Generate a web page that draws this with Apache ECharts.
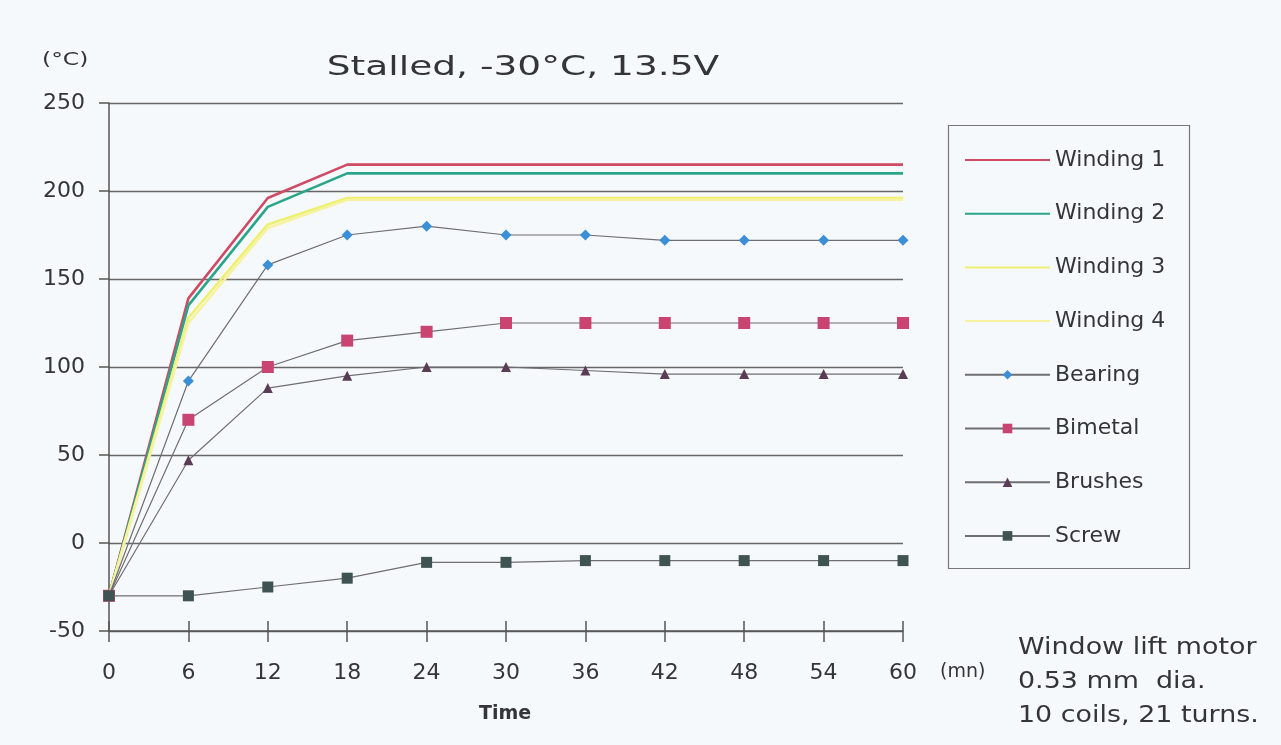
<!DOCTYPE html>
<html><head><meta charset="utf-8">
<script src="https://cdn.jsdelivr.net/npm/echarts@6/dist/echarts.min.js"></script>
<style>html,body{margin:0;padding:0;background:#f6f9fb;}#c{width:1281px;height:745px;}</style>
</head><body><div id="c"></div>
<script>
const times = [0, 6, 12, 18, 24, 30, 36, 42, 48, 54, 60];
const xTicks = [0, 6, 12, 18, 24, 30, 36, 42, 48, 54, 60];
const yTicks = [-50, 0, 50, 100, 150, 200, 250];
const winding1 = [-30, 139, 196, 215, 215, 215, 215, 215, 215, 215, 215];
const winding2 = [-30, 135, 191, 210, 210, 210, 210, 210, 210, 210, 210];
const winding3 = [-30, 128, 181, 196, 196, 196, 196, 196, 196, 196, 196];
const winding4 = [-30, 125, 179, 195, 195, 195, 195, 195, 195, 195, 195];
const bearing  = [-30, 92, 158, 175, 180, 175, 175, 172, 172, 172, 172];
const bimetal  = [-30, 70, 100, 115, 120, 125, 125, 125, 125, 125, 125];
const brushes  = [-30, 47, 88, 95, 100, 100, 98, 96, 96, 96, 96];
const screw    = [-30, -30, -25, -20, -11, -11, -10, -10, -10, -10, -10];
const seriesNames = ['Winding 1', 'Winding 2', 'Winding 3', 'Winding 4', 'Bearing', 'Bimetal', 'Brushes', 'Screw'];

const pair = arr => times.map((t, i) => [t, arr[i]]);
const F = '"DejaVu Sans", Verdana, sans-serif';
const TC = '#353538';
const chart = echarts.init(document.getElementById('c'));

function plain(name, data, color, w) {
  return { name, type: 'line', data: pair(data), symbol: 'none', showSymbol: false,
    lineStyle: { color, width: w }, itemStyle: { color }, z: 3 };
}
function marked(name, data, symbol, size, mcolor) {
  return { name, type: 'line', data: pair(data), symbol, symbolSize: size, showSymbol: true,
    lineStyle: { color: '#6e6e74', width: 1.2 }, itemStyle: { color: mcolor, borderWidth: 0 }, z: 4 };
}
function label(text, x, y, font, sx, align) {
  return { type: 'text', x, y, scaleX: sx, originX: 0, originY: 0,
    style: { text, font, fill: TC, align: align || 'left', verticalAlign: 'middle' } };
}

chart.setOption({
  backgroundColor: '#f6f9fb',
  animation: false,
  grid: { left: 109, right: 378, top: 103, bottom: 114 },
  xAxis: [{
    type: 'value', min: 0, max: 60, interval: 6,
    axisLine: { onZero: false, lineStyle: { color: '#555', width: 1.5 } },
    axisTick: { show: true, inside: false, length: 11, lineStyle: { color: '#555', width: 1.5 } },
    axisLabel: { margin: 31, fontFamily: F, fontSize: 22, color: TC,
      formatter: v => xTicks.includes(v) ? String(v) : '' },
    splitLine: { show: false }
  }, {
    type: 'value', min: 0, max: 60, interval: 6, position: 'bottom',
    axisLine: { show: false, onZero: false },
    axisTick: { show: true, inside: true, length: 10, lineStyle: { color: '#555', width: 1.5 } },
    axisLabel: { show: false }, splitLine: { show: false }
  }],
  yAxis: {
    type: 'value', min: -50, max: 250, interval: 50,
    axisLine: { show: true, lineStyle: { color: '#555', width: 1.5 } },
    axisTick: { show: true, length: 10, lineStyle: { color: '#555', width: 1.5 } },
    axisLabel: { margin: 24, fontFamily: F, fontSize: 22, color: TC,
      formatter: v => yTicks.includes(v) ? String(v) : '' },
    splitLine: { show: true, lineStyle: { color: '#666', width: 1.3 } }
  },
  legend: {
    orient: 'vertical', left: 959, top: 144, itemWidth: 85, itemHeight: 12, itemGap: 31.7,
    textStyle: { fontFamily: F, fontSize: 22, color: TC },
    data: seriesNames.map((n, i) => i < 4 ? { name: n, itemStyle: { opacity: 0 } } : n)
  },
  graphic: [
    { type: 'rect', shape: { x: 948.5, y: 125.5, width: 241, height: 443 },
      style: { fill: 'none', stroke: '#777', lineWidth: 1.2 }, z: -1 },
    label('Stalled, -30\u00B0C, 13.5V', 523, 68, '27px ' + F, 1.39, 'center'),
    label('(\u00B0C)', 42, 60, '18px ' + F, 1.3),
    label('(mn)', 940, 672, '19px ' + F, 1),
    label('Time', 505, 714, 'bold 19px ' + F, 1, 'center'),
    label('Window lift motor', 1018, 648, '23px ' + F, 1.17),
    label('0.53 mm  dia.', 1018, 682, '23px ' + F, 1.17),
    label('10 coils, 21 turns.', 1018, 716, '23px ' + F, 1.17)
  ],
  series: [
    plain('Winding 1', winding1, '#cf4a64', 2.6),
    plain('Winding 2', winding2, '#2aa58a', 2.6),
    plain('Winding 3', winding3, '#eef070', 2.6),
    plain('Winding 4', winding4, '#f6f2a0', 2.6),
    marked('Bearing', bearing, 'diamond', 11, '#3b8fd6'),
    marked('Bimetal', bimetal, 'rect', 12, '#c94470'),
    marked('Brushes', brushes, 'triangle', 10, '#5a3c55'),
    marked('Screw', screw, 'rect', 11, '#3e5352')
  ]
});
</script></body></html>
